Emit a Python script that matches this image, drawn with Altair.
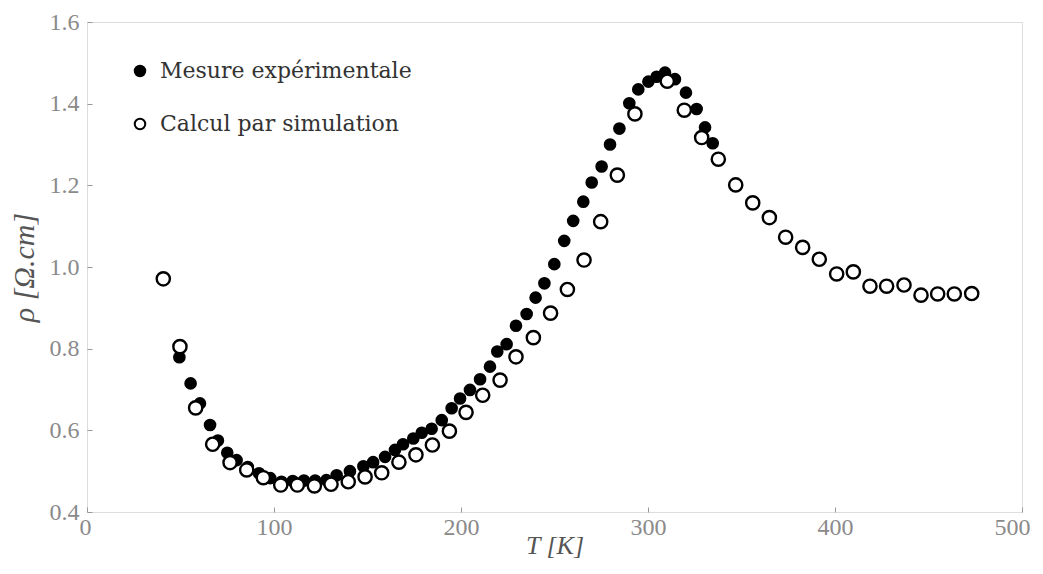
import altair as alt
import pandas as pd

series_names = ["Mesure expérimentale", "Calcul par simulation"]

meas_T = [49.4, 55.4, 60.4, 65.8, 70.0, 75.0, 80.0, 86.0, 92.0, 98.0, 104.0, 110.0,
          116.0, 122.0, 128.0, 133.5, 140.6, 147.8, 153.0, 159.4, 164.7, 169.0, 174.5,
          179.0, 184.3, 189.7, 195.0, 199.5, 204.8, 210.2, 215.5, 219.4, 224.4, 229.4,
          235.1, 239.9, 244.6, 249.9, 255.2, 260.0, 265.4, 269.9, 275.2, 279.7, 284.7,
          290.0, 294.8, 300.2, 304.6, 309.1, 314.4, 320.3, 326.0, 330.5, 334.6]
meas_rho = [0.779, 0.715, 0.666, 0.613, 0.575, 0.545, 0.527, 0.510, 0.495, 0.483, 0.474, 0.476,
            0.477, 0.477, 0.478, 0.490, 0.500, 0.512, 0.522, 0.535, 0.552, 0.566, 0.580,
            0.594, 0.604, 0.625, 0.654, 0.678, 0.699, 0.725, 0.756, 0.793, 0.811, 0.856,
            0.885, 0.925, 0.960, 1.007, 1.064, 1.113, 1.160, 1.207, 1.246, 1.300, 1.339,
            1.401, 1.435, 1.454, 1.466, 1.476, 1.460, 1.427, 1.387, 1.342, 1.303]

sim_T = [40.8, 49.7, 58.1, 67.2, 76.5, 85.4, 94.3, 103.6, 112.5, 121.6, 130.5, 139.7,
         148.7, 157.6, 166.8, 175.9, 184.7, 193.8, 202.7, 211.6, 220.9, 229.4, 238.7,
         247.9, 256.9, 265.8, 274.7, 283.6, 293.0, 310.3, 319.4, 328.7, 337.6, 346.9,
         356.0, 364.9, 373.6, 382.7, 391.6, 400.9, 409.8, 418.7, 427.6, 436.9, 446.0,
         454.9, 463.8, 473.1]
sim_rho = [0.971, 0.805, 0.655, 0.566, 0.521, 0.503, 0.484, 0.466, 0.466, 0.464, 0.468, 0.474,
           0.486, 0.496, 0.522, 0.540, 0.564, 0.598, 0.644, 0.686, 0.723, 0.780, 0.827,
           0.887, 0.945, 1.017, 1.111, 1.225, 1.375, 1.455, 1.384, 1.317, 1.264, 1.201,
           1.157, 1.121, 1.073, 1.048, 1.019, 0.983, 0.988, 0.953, 0.953, 0.956, 0.931,
           0.934, 0.934, 0.935]

x_ticks = [0, 100, 200, 300, 400, 500]
y_ticks = [0.4, 0.6, 0.8, 1.0, 1.2, 1.4, 1.6]

df = pd.concat([
    pd.DataFrame({"T": meas_T, "rho": meas_rho, "serie": series_names[0], "k": 0}),
    pd.DataFrame({"T": sim_T, "rho": sim_rho, "serie": series_names[1], "k": 1}),
], ignore_index=True)

tick_font = "Liberation Serif"
label_color = "#8a8a8a"

chart = alt.Chart(df).mark_point(
    shape="circle", filled=True, stroke="black", strokeWidth=2.4, opacity=1
).encode(
    x=alt.X("T:Q", scale=alt.Scale(domain=[0, 500], nice=False),
            axis=alt.Axis(values=x_ticks, title="T [K]", grid=False, domain=False,
                          offset=-5, tickSize=5, tickColor="#999", tickWidth=1,
                          labelPadding=3, labelFontSize=24, labelFont=tick_font,
                          labelColor=label_color, labelFlush=True, labelFlushOffset=8,
                          titleFont=tick_font, titleFontSize=26, titleFontStyle="italic",
                          titleFontWeight="normal", titleColor="#555", titlePadding=-7)),
    y=alt.Y("rho:Q", scale=alt.Scale(domain=[0.4, 1.6], nice=False, zero=False),
            axis=alt.Axis(values=y_ticks, format=".1f", title="ρ [Ω.cm]", grid=False,
                          domain=False, offset=-5, tickSize=5, tickColor="#999", tickWidth=1,
                          labelPadding=8, labelFontSize=24, labelFont=tick_font,
                          labelColor=label_color, labelFlush=False,
                          titleFont=tick_font, titleFontSize=30, titleFontStyle="italic",
                          titleFontWeight="normal", titleColor="#555", titlePadding=10)),
    fill=alt.Fill("serie:N", scale=alt.Scale(domain=series_names, range=["black", "white"]),
                  legend=alt.Legend(title=None, orient="none", legendX=42, legendY=38,
                                    symbolType="circle", symbolSize=110,
                                    symbolStrokeColor="black", symbolStrokeWidth=2,
                                    labelFont="DejaVu Serif", labelFontSize=22, labelLimit=500,
                                    labelColor="#333", rowPadding=31, labelOffset=9)),
    size=alt.Size("k:N", scale=alt.Scale(domain=[0, 1], range=[105, 175]), legend=None),
    order=alt.Order("k:Q"),
).properties(
    width=935, height=490,
    autosize=alt.AutoSizeParams(type="none"),
    padding={"left": 79, "top": 14, "right": 13, "bottom": 47},
).configure_view(
    stroke="#aaa", strokeWidth=1.5
).configure(background="white")

chart.save("out.html", embed_options={"renderer": "svg", "actions": False})
